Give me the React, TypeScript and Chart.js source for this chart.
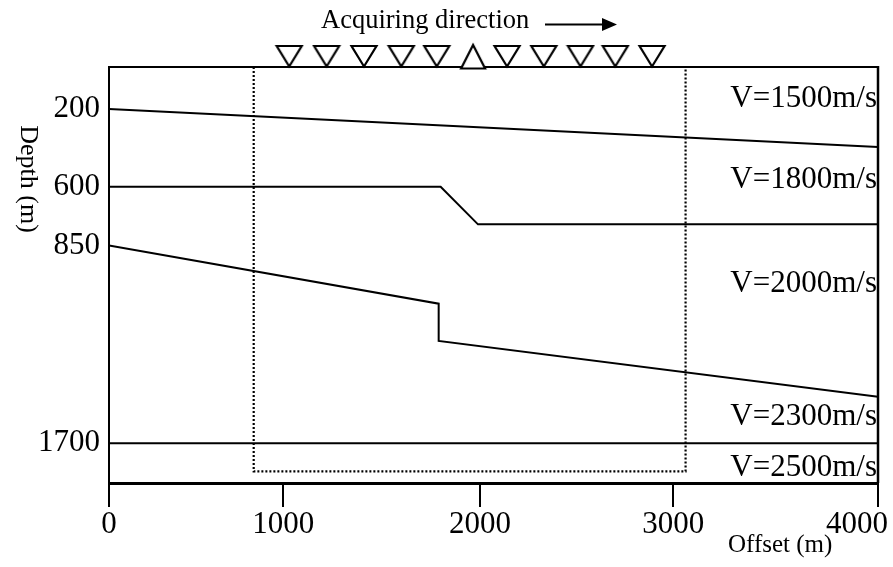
import React, { useEffect, useRef } from 'react';
import { Chart, registerables, LinearScale } from 'chart.js';

Chart.register(...registerables);

// ---------------- data ----------------
const X_TICKS = [0, 1000, 2000, 3000, 4000];
const Y_TICKS = [200, 600, 850, 1700];

const SURFACE_DEPTH = 0;
const RECEIVER_OFFSETS = [1030, 1220, 1410, 1600, 1780, 2140, 2330, 2520, 2700, 2890];
const SOURCE_OFFSETS = [1965];

const IF1_OFFSET = [0, 4000];
const IF1_DEPTH = [200, 395];
const IF2_OFFSET = [0, 1800, 1990, 4000];
const IF2_DEPTH = [600, 600, 760, 760];
const IF3_OFFSET = [0, 1790, 1790, 4000];
const IF3_DEPTH = [850, 1100, 1260, 1500];
const IF4_OFFSET = [0, 4000];
const IF4_DEPTH = [1700, 1700];

const APERTURE_OFFSET = [830, 830, 3060, 3060, 830];
const APERTURE_DEPTH = [0, 1820, 1820, 0, 0];

const VELOCITY_LABELS = ['V=1500m/s', 'V=1800m/s', 'V=2000m/s', 'V=2300m/s', 'V=2500m/s'];
const VELOCITY_LABEL_DEPTHS = [190, 605, 1050, 1621, 1840];

const X_MIN = 0;
const X_MAX = 4000;
const Y_MIN = 0;
const Y_MAX = 1870;

// schematic (non-uniform) axes: value -> fraction of axis length
const AXIS_BREAKS: Record<string, [number, number][]> = {
  x: [[0, 0], [1000, 0.2267], [2000, 0.4824], [3000, 0.7338], [4000, 1]],
  y: [[0, 0], [200, 0.101], [600, 0.2877], [850, 0.4291], [1700, 0.9046], [1870, 1]],
};

const SERIF = "'Liberation Serif', 'Times New Roman', serif";

function mapValue(pts: [number, number][], v: number): number {
  let i = 0;
  while (i < pts.length - 2 && v > pts[i + 1][0]) i++;
  const [v0, d0] = pts[i];
  const [v1, d1] = pts[i + 1];
  return d0 + ((v - v0) / (v1 - v0)) * (d1 - d0);
}
function unmapValue(pts: [number, number][], d: number): number {
  let i = 0;
  while (i < pts.length - 2 && d > pts[i + 1][1]) i++;
  const [v0, d0] = pts[i];
  const [v1, d1] = pts[i + 1];
  return v0 + ((d - d0) / (d1 - d0)) * (v1 - v0);
}

class BrokenLinearScale extends LinearScale {
  static id = 'brokenLinear';
  static defaults = {};
  getPixelForValue(value: any) {
    if (value === null || value === undefined) return NaN;
    const pts = AXIS_BREAKS[(this as any).axis] || AXIS_BREAKS[(this as any).id];
    return (this as any).getPixelForDecimal(mapValue(pts, value));
  }
  getValueForPixel(pixel: number) {
    const pts = AXIS_BREAKS[(this as any).axis] || AXIS_BREAKS[(this as any).id];
    return unmapValue(pts, (this as any).getDecimalForPixel(pixel));
  }
}
Chart.register(BrokenLinearScale as any);

function makeTriangle(up: boolean): HTMLCanvasElement {
  const c = document.createElement('canvas');
  c.width = 30;
  c.height = 50;
  const g = c.getContext('2d')!;
  g.lineWidth = 2.2;
  g.strokeStyle = '#000';
  g.fillStyle = '#fff';
  g.beginPath();
  if (up) {
    g.moveTo(15, 3);
    g.lineTo(27, 26.5);
    g.lineTo(3, 26.5);
  } else {
    g.moveTo(2.5, 4);
    g.lineTo(27.5, 4);
    g.lineTo(15, 24.5);
  }
  g.closePath();
  g.fill();
  g.stroke();
  return c;
}

function lineDs(label: string, xs: number[], ys: number[], extra: any = {}) {
  return {
    label,
    data: xs.map((x, i) => ({ x, y: ys[i] })),
    borderColor: '#000',
    backgroundColor: '#000',
    borderWidth: 2,
    pointRadius: 0,
    tension: 0,
    fill: false,
    ...extra,
  };
}

const overlay = {
  id: 'overlay',
  beforeDatasetsDraw(chart: any) {
    const { ctx, chartArea: a } = chart;
    ctx.save();
    ctx.strokeStyle = '#000';
    ctx.lineWidth = 2;
    ctx.beginPath();
    ctx.moveTo(a.left, a.top);
    ctx.lineTo(a.right, a.top);
    ctx.stroke();
    ctx.lineWidth = 2.5;
    ctx.beginPath();
    ctx.moveTo(a.right, a.top - 1);
    ctx.lineTo(a.right, a.bottom);
    ctx.stroke();
    ctx.restore();
  },
  afterDraw(chart: any) {
    const { ctx, chartArea: a, scales } = chart;
    const xs = scales.x;
    const ys = scales.y;
    ctx.save();
    ctx.fillStyle = '#000';
    ctx.strokeStyle = '#000';

    // x tick labels
    ctx.font = `31px ${SERIF}`;
    ctx.textAlign = 'center';
    ctx.textBaseline = 'alphabetic';
    X_TICKS.forEach((v) => {
      const label = String(v);
      const w = ctx.measureText(label).width;
      let cx = xs.getPixelForValue(v);
      cx = Math.min(cx, chart.width - 5 - w / 2);
      ctx.fillText(label, cx, a.bottom + 50);
    });

    // velocity labels
    ctx.textAlign = 'right';
    VELOCITY_LABELS.forEach((t, i) => {
      ctx.fillText(t, a.right - 1, ys.getPixelForValue(VELOCITY_LABEL_DEPTHS[i]));
    });

    // axis titles
    ctx.font = `25px ${SERIF}`;
    ctx.textAlign = 'left';
    ctx.fillText('Offset (m)', 728, 552);

    ctx.save();
    ctx.font = `26px ${SERIF}`;
    ctx.translate(21, 179);
    ctx.rotate(Math.PI / 2);
    ctx.textAlign = 'center';
    ctx.fillText('Depth (m)', 0, 0);
    ctx.restore();

    // acquisition direction
    ctx.font = `26.5px ${SERIF}`;
    ctx.textAlign = 'left';
    ctx.fillText('Acquiring direction', 321, 28);
    ctx.lineWidth = 2;
    ctx.beginPath();
    ctx.moveTo(545, 24.5);
    ctx.lineTo(605, 24.5);
    ctx.stroke();
    ctx.beginPath();
    ctx.moveTo(602, 18);
    ctx.lineTo(617, 24.5);
    ctx.lineTo(602, 31);
    ctx.closePath();
    ctx.fill();
    ctx.restore();
  },
};

export default function App() {
  const ref = useRef<HTMLCanvasElement>(null);
  useEffect(() => {
    const canvas = ref.current!;
    const receiverImg = makeTriangle(false);
    const sourceImg = makeTriangle(true);
    const chart = new Chart(canvas, {
      type: 'line',
      data: {
        datasets: [
          {
            label: 'Source',
            data: SOURCE_OFFSETS.map((x) => ({ x, y: SURFACE_DEPTH })),
            showLine: false,
            pointStyle: sourceImg as any,
            pointRadius: 12,
            clip: false as any,
          },
          {
            label: 'Receivers',
            data: RECEIVER_OFFSETS.map((x) => ({ x, y: SURFACE_DEPTH })),
            showLine: false,
            pointStyle: receiverImg as any,
            pointRadius: 12,
            clip: false as any,
          },
          lineDs('Interface 1', IF1_OFFSET, IF1_DEPTH),
          lineDs('Interface 2', IF2_OFFSET, IF2_DEPTH),
          lineDs('Interface 3', IF3_OFFSET, IF3_DEPTH),
          lineDs('Interface 4', IF4_OFFSET, IF4_DEPTH),
          lineDs('Aperture', APERTURE_OFFSET, APERTURE_DEPTH, {
            borderDash: [2, 2],
            borderWidth: 2.2,
            clip: false,
          }),
        ] as any,
      },
      options: {
        animation: false,
        responsive: false,
        devicePixelRatio: 1,
        events: [],
        layout: { padding: { top: 67, right: 15, bottom: 0, left: 0 } },
        plugins: { legend: { display: false }, tooltip: { enabled: false }, title: { display: false } },
        scales: {
          x: {
            type: 'brokenLinear' as any,
            position: 'bottom',
            min: X_MIN,
            max: X_MAX,
            afterBuildTicks: (s: any) => {
              s.ticks = X_TICKS.map((v) => ({ value: v }));
            },
            afterFit: (s: any) => {
              s.height = 84;
              s.paddingLeft = 0;
              s.paddingRight = 0;
            },
            grid: { drawOnChartArea: false, drawTicks: true, tickLength: 24, color: '#000', lineWidth: 2 },
            border: { display: true, color: '#000', width: 3 },
            ticks: { display: false },
          } as any,
          y: {
            type: 'brokenLinear' as any,
            position: 'left',
            reverse: true,
            min: Y_MIN,
            max: Y_MAX,
            afterBuildTicks: (s: any) => {
              s.ticks = Y_TICKS.map((v) => ({ value: v }));
            },
            afterFit: (s: any) => {
              s.width = 109;
              s.paddingTop = 0;
              s.paddingBottom = 0;
            },
            grid: { drawOnChartArea: false, drawTicks: false },
            border: { display: true, color: '#000', width: 2 },
            ticks: {
              padding: 9,
              color: '#000',
              autoSkip: false,
              font: { family: SERIF, size: 31 },
              callback: (v: any) => String(v),
            },
          } as any,
        },
      },
      plugins: [overlay],
    });
    return () => chart.destroy();
  }, []);
  return (
    <div style={{ position: 'absolute', left: 0, top: 0, width: 893, height: 567, background: '#fff' }}>
      <canvas ref={ref} width={893} height={567} style={{ display: 'block', width: 893, height: 567 }} />
    </div>
  );
}
